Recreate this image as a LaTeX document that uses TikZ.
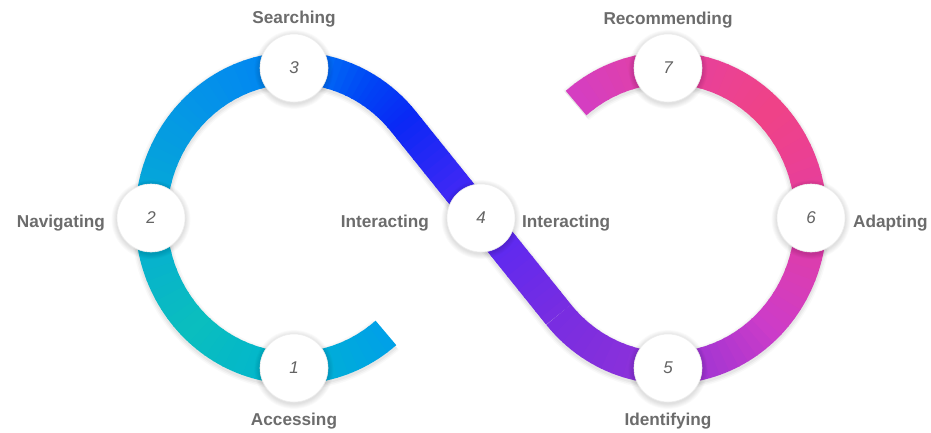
\documentclass[tikz,border=0pt]{standalone}
\usepackage{fontspec}
\setmainfont{Liberation Sans}
\usetikzlibrary{calc}
\definecolor{Lzero}{RGB}{0,160,232}
\definecolor{Lone}{RGB}{0,180,208}
\definecolor{Ltwo}{RGB}{10,190,190}
\definecolor{Lthree}{RGB}{5,172,212}
\definecolor{Lfour}{RGB}{5,150,230}
\definecolor{Lfive}{RGB}{0,130,245}
\definecolor{Lsix}{RGB}{0,70,245}
\definecolor{Lseven}{RGB}{10,40,245}
\definecolor{Mone}{RGB}{85,40,245}
\definecolor{Mtwo}{RGB}{120,45,225}
\definecolor{Rone}{RGB}{145,50,215}
\definecolor{Rtwo}{RGB}{205,60,200}
\definecolor{Rthree}{RGB}{228,62,160}
\definecolor{Rfour}{RGB}{240,66,135}
\definecolor{Rfive}{RGB}{228,65,160}
\definecolor{Rsix}{RGB}{212,62,195}
\definecolor{txtgray}{RGB}{108,108,108}
\definecolor{numgray}{RGB}{100,100,100}
\newcommand\gradarc[7]{%
  \foreach \i in {1,...,#7}{%
    \pgfmathsetmacro\ta{#3+(#4-#3)*(\i-1)/#7}%
    \pgfmathsetmacro\tb{#3+(#4-#3)*\i/#7+sign(#4-#3)*0.5}%
    \pgfmathsetmacro\pc{100*(\i-0.5)/#7}%
    \draw[band, color=#6!\pc!#5] ({#1+143*cos(\ta)},{#2+150*sin(\ta)}) arc[start angle=\ta, end angle=\tb, x radius=143, y radius=150];
  }}
\newcommand\gradline[5]{%
  \foreach \i in {1,...,#5}{%
    \pgfmathsetmacro\ta{(\i-1)/#5}%
    \pgfmathsetmacro\tb{min(1,\i/#5+0.01)}%
    \pgfmathsetmacro\pc{100*(\i-0.5)/#5}%
    \draw[band, color=#4!\pc!#3] ($(#1)!\ta!(#2)$) -- ($(#1)!\tb!(#2)$);
  }}
\tikzset{
  band/.style={line width=32pt, line cap=butt},
  num/.style={circle, fill=white, draw=black!7, line width=0.6pt, minimum size=68pt, inner sep=0pt,
    font=\fontsize{17}{17}\selectfont\itshape, text=numgray},
  lab/.style={font=\fontsize{17.2}{17.2}\selectfont\bfseries, text=txtgray, inner sep=0pt},
}
\begin{document}
\begin{tikzpicture}[x=1pt,y=1pt]
\useasboundingbox (0,0) rectangle (931,432);
\fill[white] (0,0) rectangle (931,432);
% centres and tangent points
\coordinate (CL) at (294,214);
\coordinate (CR) at (668,214);
\coordinate (T1) at (403.4,310.6);
\coordinate (T2) at (558.6,117.4);
\coordinate (S) at ({294+143*cos(-50)},{214+150*sin(-50)});
% band shadow
\foreach \w/\o in {40/0.025,37/0.035,34/0.04}{
  \draw[line width=\w pt, black, opacity=\o, transform canvas={yshift=-2pt}]
    (S) arc[start angle=-50, end angle=-319.9, x radius=143, y radius=150]
    -- (T2) arc[start angle=220.1, end angle=490, x radius=143, y radius=150];
}
% left loop
\gradarc{294}{214}{-50}{-90}{Lzero}{Lone}{10}
\gradarc{294}{214}{-90}{-135}{Lone}{Ltwo}{12}
\gradarc{294}{214}{-135}{-180}{Ltwo}{Lthree}{12}
\gradarc{294}{214}{-180}{-225}{Lthree}{Lfour}{12}
\gradarc{294}{214}{-225}{-270}{Lfour}{Lfive}{12}
\gradarc{294}{214}{-270}{-300}{Lfive}{Lsix}{10}
\gradarc{294}{214}{-300}{-319.9}{Lsix}{Lseven}{8}
% crossing
\coordinate (MID) at (481,214);
\gradline{T1}{MID}{Lseven}{Mone}{14}
\gradline{MID}{T2}{Mone}{Mtwo}{14}
% right loop
\gradarc{668}{214}{220.1}{270}{Mtwo}{Rone}{12}
\gradarc{668}{214}{270}{315}{Rone}{Rtwo}{12}
\gradarc{668}{214}{315}{360}{Rtwo}{Rthree}{12}
\gradarc{668}{214}{360}{405}{Rthree}{Rfour}{12}
\gradarc{668}{214}{405}{450}{Rfour}{Rfive}{12}
\gradarc{668}{214}{450}{489.5}{Rfive}{Rsix}{10}
% node positions
\coordinate (p1) at (294,64);
\coordinate (p2) at (151,214);
\coordinate (p3) at (294,364);
\coordinate (p4) at (481,214);
\coordinate (p5) at (668,64);
\coordinate (p6) at (811,214);
\coordinate (p7) at (668,364);
% node shadows
\foreach \p in {p1,p2,p3,p4,p5,p6,p7}{
  \foreach \k in {1,...,6}{
    \fill[black, opacity=0.018] ($(\p)+(0,-1.5)$) circle ({34+\k*0.9});
  }
}
% nodes
\node[num] (n1) at (p1) {1};
\node[num] (n2) at (p2) {2};
\node[num] (n3) at (p3) {3};
\node[num] (n4) at (p4) {4};
\node[num] (n5) at (p5) {5};
\node[num] (n6) at (p6) {6};
\node[num] (n7) at (p7) {7};
% labels
\node[lab, anchor=base] (l3) at (294,408) {Searching};
\node[lab, anchor=base east] (l2) at (105,205) {Navigating};
\node[lab, anchor=base] (l1) at (294,7) {Accessing};
\node[lab, anchor=base east] (l4a) at (429,205) {Interacting};
\node[lab, anchor=base west] (l4b) at (522,205) {Interacting};
\node[lab, anchor=base] (l7) at (668,407) {Recommending};
\node[lab, anchor=base west] (l6) at (853,205) {Adapting};
\node[lab, anchor=base] (l5) at (668,7) {Identifying};
\end{tikzpicture}
\end{document}
